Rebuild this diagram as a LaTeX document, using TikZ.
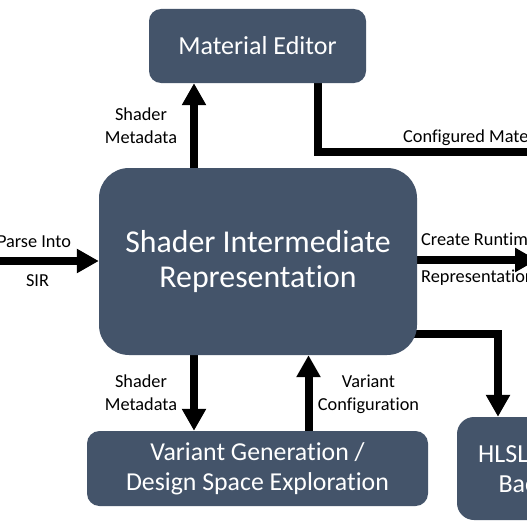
\documentclass[tikz,border=0pt]{standalone}
\usepackage{fontspec}
\setmainfont{Carlito}[Ligatures=NoCommon]
\usetikzlibrary{arrows.meta,backgrounds}
\definecolor{boxc}{HTML}{44546A}
\begin{document}
\begin{tikzpicture}[x=1pt,y=-1pt,
  box/.style={draw=none,fill=boxc,text=white,align=center,inner sep=0pt},
  conn/.style={line width=8pt,black},
  arr/.style={conn,-{Triangle[width=23pt,length=22pt]}},
  lbl/.style={font=\fontsize{18.3}{22}\selectfont,inner sep=0pt,anchor=base}]
\useasboundingbox (0,0) rectangle (527,527);
\clip (0,0) rectangle (527,527);
% boxes
\node[box,minimum width=217pt,minimum height=74pt,rounded corners=12pt,
  font=\fontsize{26}{30}\selectfont] (me) at (257.5,46) {Material Editor};
\node[box,minimum width=318pt,minimum height=187pt,rounded corners=30pt,
  font=\fontsize{31.8}{35}\selectfont] (sir) at (258,261.5) {Shader Intermediate\\Representation};
\node[box,minimum width=341pt,minimum height=75pt,rounded corners=12.5pt,
  font=\fontsize{25.8}{30}\selectfont] (var) at (257.5,468.5) {Variant Generation /\\Design Space Exploration};
\node[box,minimum width=172pt,minimum height=103pt,rounded corners=17pt,
  font=\fontsize{26}{30}\selectfont] (hlsl) at (543,468.5) {HLSL Shader\\Backend};
% helper coordinates
\coordinate (xa) at (194,0);
\coordinate (xb) at (308.5,0);
\coordinate (xc) at (318,0);
\coordinate (xd) at (498,0);
\coordinate (cfg) at (545,152);
\coordinate (pin) at (-10,261);
\coordinate (crt) at (537,260);
\coordinate (hs) at (405,334);
% connectors
\begin{pgfonlayer}{background}
\fill[white] (0,0) rectangle (527,527);
\draw[arr] (sir.north -| xa) -- (me.south -| xa);
\draw[conn] (me.south -| xc) |- (cfg);
\draw[arr] (pin) -- (sir.west |- pin);
\draw[arr] (sir.east |- crt) -- (crt);
\draw[arr] (hs) -| (hlsl.north -| xd);
\draw[arr] (sir.south -| xa) -- (var.north -| xa);
\draw[arr] (var.north -| xb) -- (sir.south -| xb);
\end{pgfonlayer}
% labels
\node[lbl] (sm1) at (141,120) {Shader};
\node[lbl] (sm2) at (141,143) {Metadata};
\node[lbl] (sm3) at (141,387) {Shader};
\node[lbl] (sm4) at (141,410) {Metadata};
\node[lbl] (vc1) at (368.5,387) {Variant};
\node[lbl] (vc2) at (368.5,410) {Configuration};
\node[lbl] (pi1) at (34,247) {Parse Into};
\node[lbl] (pi2) at (37.5,286) {SIR};
\node[lbl,anchor=base west] (cr1) at (421,245) {Create Runtime};
\node[lbl,anchor=base west] (cr2) at (421,282) {Representation};
\node[lbl,anchor=base west] (cm) at (403,142) {Configured Material};
\end{tikzpicture}
\end{document}
